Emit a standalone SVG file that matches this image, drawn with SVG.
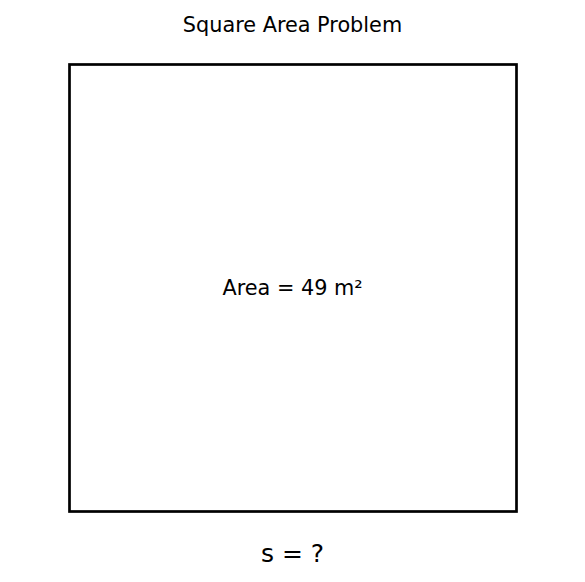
<svg xmlns="http://www.w3.org/2000/svg" width="585" height="582" viewBox="0 0 585 582">
<style>
text { font-family: "DejaVu Sans", sans-serif; fill: #000; text-anchor: middle; }
.t { font-size: 20.8px; }
.l { font-size: 25px; }
</style>
<rect width="585" height="582" fill="#fff"/>
<text class="t" x="292.5" y="31.5">Square Area Problem</text>
<g id="square">
<rect x="69.5" y="64.5" width="447" height="447" fill="none" stroke="#000" stroke-width="2.7"/>
<text class="t" x="292.5" y="294.5">Area = 49 m²</text>
</g>
<g id="side-label">
<text class="l" x="292.5" y="561.5">s = ?</text>
</g>
</svg>
